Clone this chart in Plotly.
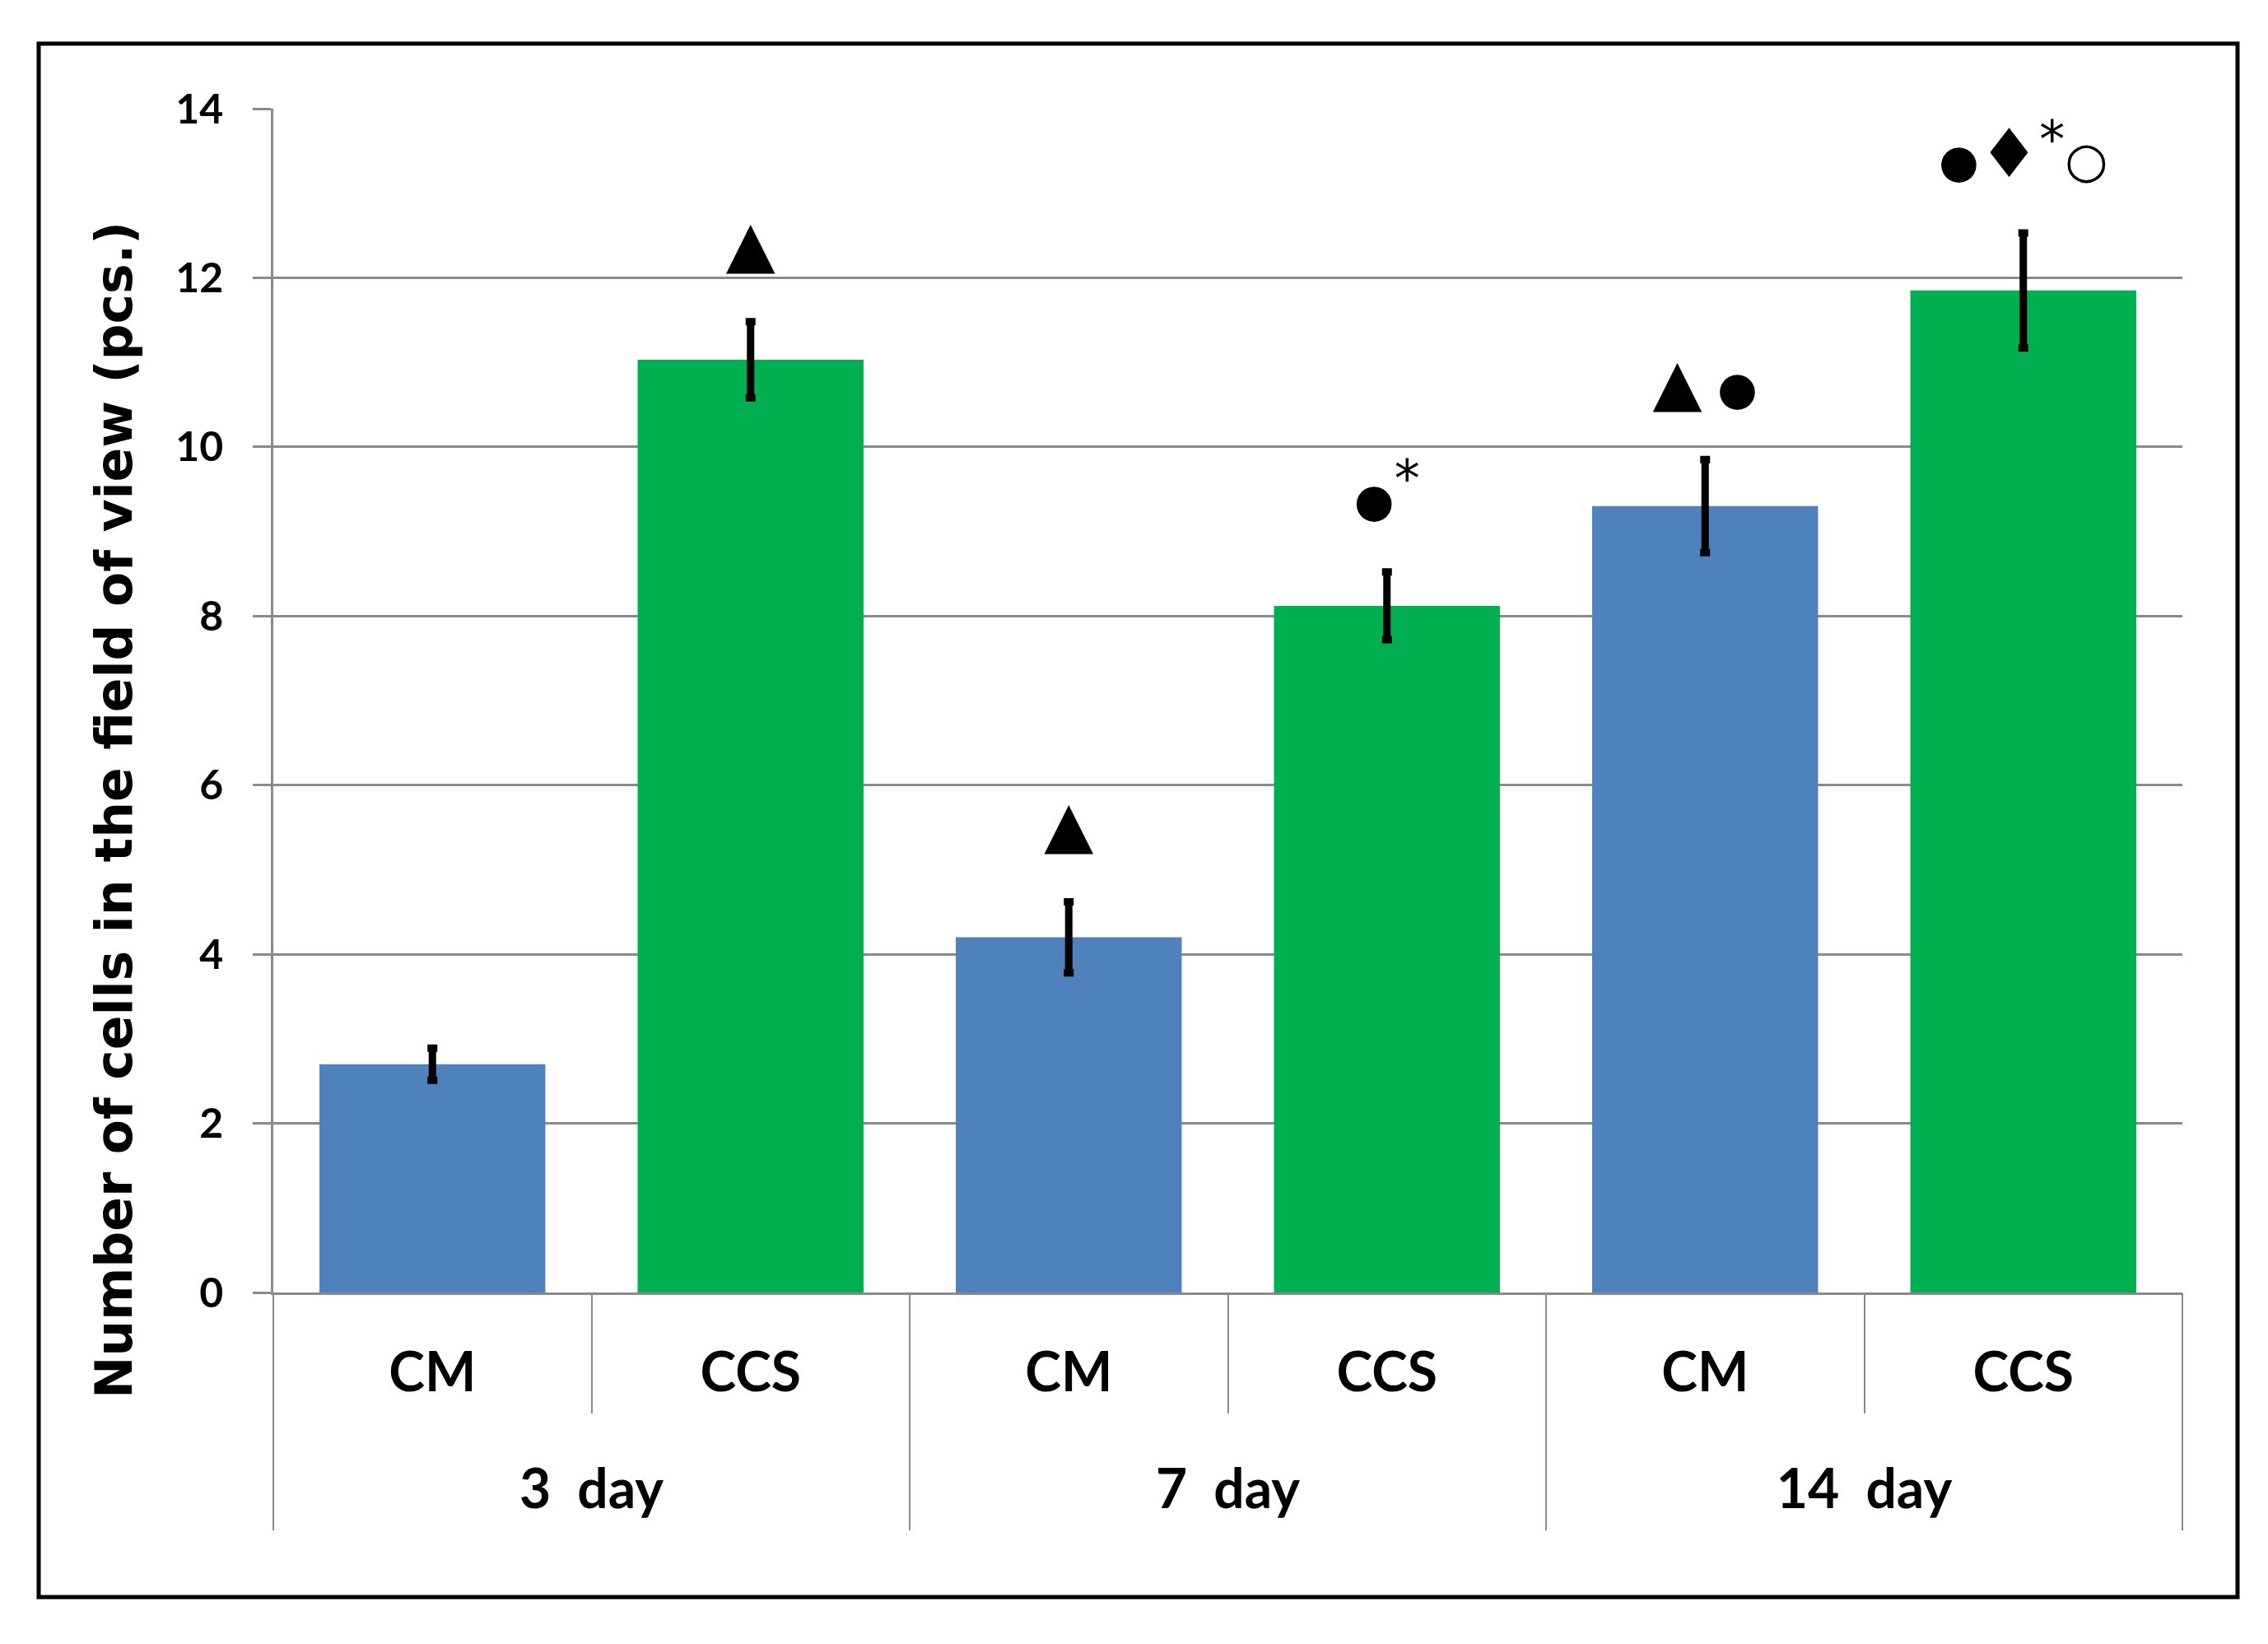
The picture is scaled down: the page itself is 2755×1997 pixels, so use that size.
import plotly.graph_objects as go

days = ["3\u00a0\u00a0day", "3\u00a0\u00a0day", "7\u00a0\u00a0day", "7\u00a0\u00a0day", "14\u00a0\u00a0day", "14\u00a0\u00a0day"]
groups = ["CM", "CCS", "CM", "CCS", "CM", "CCS"]
day_labels = ["3\u00a0\u00a0day", "7\u00a0\u00a0day", "14\u00a0\u00a0day"]
means = [2.7, 11.03, 4.2, 8.12, 9.3, 11.85]
errors = [0.19, 0.45, 0.42, 0.4, 0.55, 0.68]
colors = ["#4F81BD", "#00B050", "#4F81BD", "#00B050", "#4F81BD", "#00B050"]

TRI = '<span style="font-size:78px">\u25B2</span>'
DOT = '<span style="font-size:56px">\u25CF</span>'
DIA = '<span style="font-size:82px">\u2666</span>'
AST = '<sup><span style="font-size:62px">*</span></sup>'
CIR = '<span style="font-size:60px">\u25CB</span>'
signif = ["", TRI, TRI, DOT + AST, TRI + " " + DOT, DOT + DIA + AST + CIR]

W, H = 2739, 1981
L, R, T, B = 324, 96, 124, 419
n = len(groups)
pos = list(range(n))

fig = go.Figure()
fig.add_trace(go.Bar(
    x=[days, groups], y=means,
    marker=dict(color=colors, line=dict(width=0)),
    error_y=dict(type="data", array=errors, visible=True, color="black", thickness=9, width=6),
    showlegend=False, hoverinfo="skip",
))
label_y = [m + e + 0.8 for m, e in zip(means, errors)]
fig.add_trace(go.Scatter(
    x=[days, groups], y=label_y, mode="text", text=signif,
    textposition="middle center",
    textfont=dict(family="DejaVu Sans", size=58, color="black"),
    showlegend=False, hoverinfo="skip",
))

fig.update_layout(
    width=W, height=H,
    margin=dict(l=L, r=R, t=T, b=B),
    plot_bgcolor="white", paper_bgcolor="white",
    bargap=0.29,
    font=dict(family="Lato", color="black"),
)
grid_c = "#8A8A8A"
fig.update_yaxes(
    range=[0, 14], dtick=2, showgrid=True, gridcolor=grid_c, gridwidth=2.5,
    showline=True, linecolor=grid_c, linewidth=2.5,
    ticks="outside", ticklen=22, tickwidth=2.5, tickcolor=grid_c,
    ticklabelstandoff=26,
    tickfont=dict(family="Lato", size=50, weight="bold", color="black"),
    zeroline=False,
)
fig.update_layout(
    xaxis=dict(
        type="multicategory", showline=True, linecolor=grid_c, linewidth=2.5,
        ticks="", showticklabels=False, showdividers=False, showgrid=False,
        range=[-0.5, n - 0.5],
    ),
    xaxis2=dict(
        overlaying="x", anchor="y", side="bottom", range=[-0.5, n - 0.5],
        tickmode="array", tickvals=pos, ticktext=groups, ticks="",
        showgrid=False, zeroline=False, showline=False,
        ticklabelstandoff=53,
        tickfont=dict(family="Lato", size=66, weight="bold", color="black"),
        minor=dict(tickvals=[0.5, 2.5, 4.5], ticks="outside", ticklen=146,
                   tickwidth=2, tickcolor=grid_c, showgrid=False),
    ),
    xaxis3=dict(
        overlaying="x", anchor="y", side="bottom", range=[-0.5, n - 0.5],
        tickmode="array", tickvals=[0.5, 2.5, 4.5], ticktext=day_labels, ticks="",
        showgrid=False, zeroline=False, showline=False,
        ticklabelstandoff=195,
        tickfont=dict(family="Lato", size=66, weight="bold", color="black"),
        minor=dict(tickvals=[-0.5, 1.5, 3.5, 5.5], ticks="outside", ticklen=288,
                   tickwidth=2, tickcolor=grid_c, showgrid=False),
    ),
)
# invisible traces that activate the label axes
fig.add_trace(go.Scatter(x=[pos[0]], y=[0], xaxis="x2", mode="markers",
                         marker=dict(opacity=0), showlegend=False, hoverinfo="skip"))
fig.add_trace(go.Scatter(x=[pos[0]], y=[0], xaxis="x3", mode="markers",
                         marker=dict(opacity=0), showlegend=False, hoverinfo="skip"))

pw, ph = W - L - R, H - T - B
fig.add_annotation(
    text="Number of cells in the field of view (pcs.)", textangle=-90,
    xref="paper", yref="paper", x=(131 - L) / pw, y=(H - B - 976) / ph,
    showarrow=False, xanchor="center", yanchor="middle",
    font=dict(family="DejaVu Sans", size=61.5, weight="bold", color="black"),
)
fig.add_shape(
    type="rect", xref="paper", yref="paper",
    x0=(39 - L) / pw, x1=(2710 - L) / pw,
    y0=(H - B - 1932) / ph, y1=(H - B - 45) / ph,
    line=dict(color="black", width=5), fillcolor="rgba(0,0,0,0)", layer="above",
)

fig.write_html("out.html")
